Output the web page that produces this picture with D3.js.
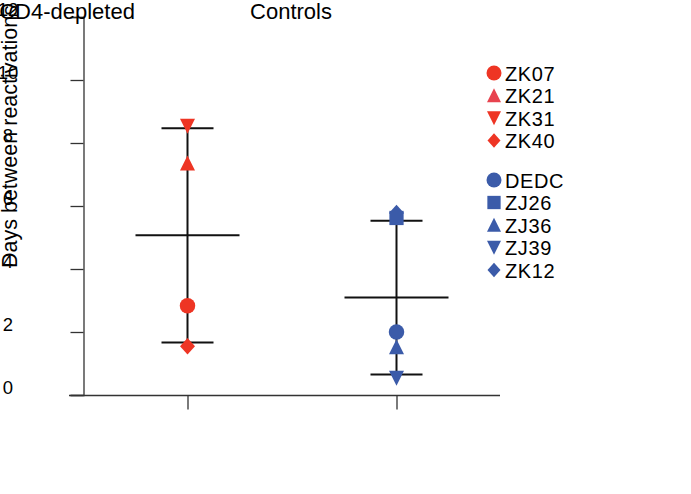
<!DOCTYPE html>
<html><head><meta charset="utf-8">
<script src="https://cdn.jsdelivr.net/npm/d3@7"></script>
<style>
html,body{margin:0;padding:0;background:#fff;}
text{font-family:"Liberation Sans",Arial,Helvetica,sans-serif;fill:#000;}
</style></head>
<body>
<svg id="chart" width="691" height="494"></svg>
<script>
const groups = ["CD4-depleted", "Controls"];
const animals = ["ZK07", "ZK21", "ZK31", "ZK40", "DEDC", "ZJ26", "ZJ36", "ZJ39", "ZK12"];
const animalGroup = ["CD4-depleted", "CD4-depleted", "CD4-depleted", "CD4-depleted", "Controls", "Controls", "Controls", "Controls", "Controls"];
const animalShape = ["circle", "triangle", "triangleDown", "diamond", "circle", "square", "triangle", "triangleDown", "diamond"];
const days = [2.83, 7.35, 8.54, 1.55, 2.0, 5.62, 1.52, 0.54, 5.78];
const yTicks = [0, 2, 4, 6, 8, 10, 12];
const yLabel = "Days between reactivations";
const groupColor = {"CD4-depleted": "#EE3524", "Controls": "#3B5BA9"};
const legendColor = ["#EE3524", "#E8434F", "#EE3524", "#EE3524", "#3B5BA9", "#3B5BA9", "#3B5BA9", "#3B5BA9", "#3B5BA9"];

const svg = d3.select("#chart");
const x = d3.scalePoint().domain(groups).range([83, 501]).padding(0.5);
const y = d3.scaleLinear().domain([0, 12]).range([395, 17]);

function shapePath(kind, s) {
  const h = s / 2;
  const p = d3.path();
  if (kind === "circle") { p.arc(0, 0, h, 0, 2 * Math.PI); }
  else if (kind === "triangle") { p.moveTo(0, -h * 1.05); p.lineTo(h, h * 0.95); p.lineTo(-h, h * 0.95); p.closePath(); }
  else if (kind === "triangleDown") { p.moveTo(0, h * 1.05); p.lineTo(h, -h * 0.95); p.lineTo(-h, -h * 0.95); p.closePath(); }
  else if (kind === "square") { p.rect(-h * 0.95, -h * 0.95, 2 * h * 0.95, 2 * h * 0.95); }
  else if (kind === "diamond") { p.moveTo(0, -h * 1.1); p.lineTo(h, 0); p.lineTo(0, h * 1.1); p.lineTo(-h, 0); p.closePath(); }
  return p.toString();
}

// axes
const yAxis = d3.axisLeft(y).tickValues(yTicks).tickSize(13).tickFormat("");
const gy = svg.append("g").attr("transform", "translate(83.5,0)").call(yAxis);
gy.select(".domain").attr("stroke", "#333").attr("stroke-width", 1.3);
gy.selectAll(".tick line").attr("stroke", "#333").attr("stroke-width", 1.3);

const xAxis = d3.axisBottom(x).tickSize(14).tickSizeOuter(0).tickFormat("");
const gx = svg.append("g").attr("transform", "translate(0,395.5)").call(xAxis);
gx.select(".domain").attr("d", "M69,0H500").attr("stroke", "#333").attr("stroke-width", 1.3);
gx.selectAll(".tick line").attr("stroke", "#333").attr("stroke-width", 1.3);

// y tick labels
svg.append("g").selectAll("text").data(yTicks).join("text")
  .attr("x", 8).attr("y", d => y(d) - 1.5)
  .attr("text-anchor", "middle")
  .attr("font-size", 18.5)
  .text(d => d);

// y title
svg.append("text")
  .attr("transform", "translate(17,268) rotate(-90)")
  .attr("font-size", 21.5)
  .text(yLabel);

// group labels at top
const groupLabelX = {"CD4-depleted": 67, "Controls": 291};
svg.append("g").selectAll("text").data(groups).join("text")
  .attr("x", d => groupLabelX[d]).attr("y", 18.5)
  .attr("text-anchor", "middle")
  .attr("font-size", 22)
  .text(d => d);

// mean and SD bars
const stats = groups.map(g => {
  const v = days.filter((d, i) => animalGroup[i] === g);
  const m = d3.mean(v), sd = d3.deviation(v);
  return {g, m, lo: m - sd, hi: m + sd};
});
const eb = svg.append("g").attr("stroke", "#111").attr("stroke-width", 2);
stats.forEach(s => {
  const cx = x(s.g);
  eb.append("line").attr("x1", cx).attr("x2", cx).attr("y1", y(s.hi)).attr("y2", y(s.lo));
  eb.append("line").attr("x1", cx - 26).attr("x2", cx + 26).attr("y1", y(s.hi)).attr("y2", y(s.hi));
  eb.append("line").attr("x1", cx - 26).attr("x2", cx + 26).attr("y1", y(s.lo)).attr("y2", y(s.lo));
  eb.append("line").attr("x1", cx - 52).attr("x2", cx + 52).attr("y1", y(s.m)).attr("y2", y(s.m));
});

// points
const drawOrder = [3, 0, 1, 2, 8, 5, 4, 6, 7];
svg.append("g").selectAll("path").data(drawOrder).join("path")
  .attr("transform", i => `translate(${x(animalGroup[i])},${y(days[i])})`)
  .attr("d", i => shapePath(animalShape[i], animalShape[i] === "circle" ? 15.5 : 15))
  .attr("fill", i => groupColor[animalGroup[i]]);

// legend
const legendY = animals.map((a, i) => 73 + i * 22.5 + (i >= 4 ? 17 : 0));
const lg = svg.append("g");
animals.forEach((a, i) => {
  lg.append("path")
    .attr("transform", `translate(494,${legendY[i]})`)
    .attr("d", shapePath(animalShape[i], animalShape[i] === "circle" ? 15 : animalShape[i] === "diamond" ? 13 : 14))
    .attr("fill", legendColor[i]);
  lg.append("text")
    .attr("x", 505).attr("y", legendY[i] + 7.5)
    .attr("font-size", 20)
    .attr("letter-spacing", 0.6)
    .text(a);
});
</script>
</body></html>
